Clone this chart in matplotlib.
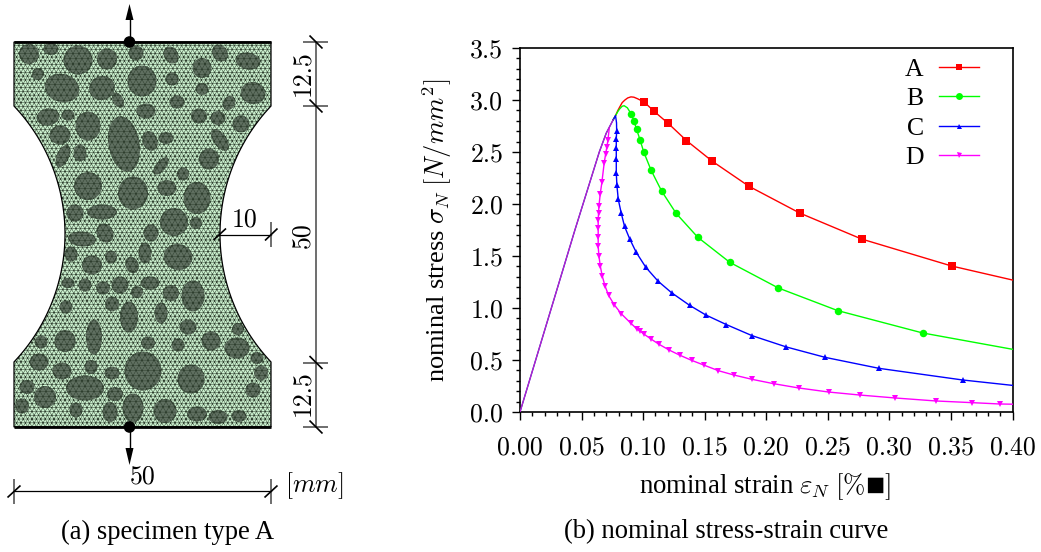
import numpy as np
import matplotlib
matplotlib.use("Agg")
import matplotlib.pyplot as plt
from matplotlib.patches import Ellipse, Polygon, Circle
from matplotlib.path import Path
from matplotlib.transforms import Affine2D
import matplotlib.tri as mtri

plt.rcParams['font.family'] = ['Liberation Serif', 'DejaVu Sans']
plt.rcParams['mathtext.fontset'] = 'cm'

# ---------- stress-strain data ----------
elastic_x = [0.0, 0.0446, 0.0644, 0.0700, 0.0757]
elastic_y = [0.0, 1.75, 2.5, 2.68, 2.81]

a_line_x = [0.0757, 0.0776, 0.0795, 0.0811, 0.0830, 0.0852, 0.0875, 0.0901, 0.0925, 0.0955]
a_line_y = [2.81, 2.85, 2.90, 2.935, 2.975, 3.00, 3.02, 3.03, 3.027, 3.012]
a_mark_x = [0.1009, 0.109, 0.1203, 0.1352, 0.1563, 0.186, 0.2272, 0.2775, 0.3505]
a_mark_y = [2.98, 2.89, 2.776, 2.61, 2.41, 2.17, 1.913, 1.663, 1.404]
a_end_x = [0.40]
a_end_y = [1.269]

b_line_x = [0.0757, 0.0776, 0.0795, 0.081, 0.083, 0.0846, 0.0872]
b_line_y = [2.81, 2.85, 2.89, 2.915, 2.94, 2.945, 2.925]
b_mark_x = [0.0903, 0.0925, 0.0947, 0.0974, 0.1006, 0.1065, 0.115, 0.1268, 0.1444, 0.1704, 0.2099, 0.258, 0.327]
b_mark_y = [2.865, 2.80, 2.718, 2.62, 2.497, 2.324, 2.125, 1.91, 1.68, 1.439, 1.192, 0.975, 0.76]
b_end_x = [0.40]
b_end_y = [0.603]

c_line_x = [0.0757, 0.0776, 0.0784]
c_line_y = [2.81, 2.85, 2.78]
c_mark_x = [0.0785, 0.0782, 0.0782, 0.0782, 0.0782, 0.0787, 0.0798, 0.0822, 0.0849, 0.089, 0.0944, 0.1022,
            0.1122, 0.1231, 0.1377, 0.1509, 0.1677, 0.1885, 0.2164, 0.248, 0.2915, 0.3594]
c_mark_y = [2.705, 2.625, 2.54, 2.43, 2.30, 2.18, 2.045, 1.913, 1.785, 1.667, 1.535, 1.391,
            1.257, 1.147, 1.026, 0.933, 0.84, 0.734, 0.625, 0.525, 0.42, 0.308]
c_end_x = [0.40]
c_end_y = [0.256]

d_line_x = [0.0725]
d_line_y = [2.728]
d_mark_x = [0.0714, 0.0706, 0.0695, 0.0684, 0.0665, 0.0652, 0.0641, 0.0638, 0.0635, 0.0635, 0.0635, 0.0635,
            0.0641, 0.0652, 0.0668, 0.069, 0.0719, 0.0765, 0.0822, 0.0898, 0.0947, 0.0974, 0.1009, 0.106,
            0.1125, 0.1211, 0.13, 0.1393, 0.1498, 0.1612, 0.1736, 0.1885, 0.2061, 0.2264, 0.2507, 0.2761,
            0.3045, 0.3378, 0.367, 0.3897]
d_mark_y = [2.615, 2.551, 2.477, 2.397, 2.208, 2.10, 1.98, 1.913, 1.846, 1.77, 1.683, 1.596,
            1.50, 1.404, 1.308, 1.214, 1.122, 1.032, 0.945, 0.856, 0.801, 0.779, 0.747, 0.705,
            0.654, 0.596, 0.545, 0.497, 0.449, 0.397, 0.356, 0.314, 0.272, 0.231, 0.192, 0.163,
            0.135, 0.106, 0.09, 0.077]
d_end_x = [0.40]
d_end_y = [0.075]

x_ticks = [0.00, 0.05, 0.10, 0.15, 0.20, 0.25, 0.30, 0.35, 0.40]
y_ticks = [0.0, 0.5, 1.0, 1.5, 2.0, 2.5, 3.0, 3.5]
series_names = ['A', 'B', 'C', 'D']

# ---------- inclusions: cx, cy, width, height, angle (screen px) ----------
grains = [
    (29,54,20,20,0),(51,49,15,12,0),(78,60,29,29,0),(107,59,20,21,0),(136,53,15,15,0),(171,55,18,14,60),
    (202,68,19,20,0),(220,53,18,15,55),(248,61,25,17,10),(38,74,12,12,0),(62,88,35,28,15),(102,88,26,24,-20),
    (142,81,29,31,0),(172,79,13,13,0),(202,89,13,12,0),(253,93,25,22,10),(118,100,17,10,60),(177,102,15,13,0),
    (229,103,15,12,-60),(146,111,19,15,0),(199,116,16,15,0),(218,118,15,14,0),(241,124,17,17,0),(48,117,23,17,-10),
    (68,115,13,11,0),(88,126,25,29,0),(60,135,21,19,0),(80,153,13,17,0),(63,156,24,12,-65),(124,144,56,31,80),
    (150,141,20,15,70),(166,138,15,12,0),(220,140,25,13,55),(209,159,20,21,0),(161,166,21,10,-50),(183,174,12,13,0),
    (88,186,28,28,0),(133,193,30,33,0),(167,188,19,16,0),(197,198,27,32,0),(75,213,17,17,0),(102,212,30,15,0),
    (174,222,28,28,0),(196,223,12,12,0),(151,233,15,17,0),(82,239,28,15,5),(105,233,20,16,60),(71,254,13,15,0),
    (111,257,12,13,0),(92,265,20,19,0),(145,253,13,21,0),(132,265,17,13,70),(178,257,29,26,15),
    (68,283,13,10,0),(85,285,13,13,0),(103,288,14,13,0),(120,285,17,17,0),(137,292,12,12,0),(150,283,19,13,0),
    (171,293,16,16,0),(193,296,23,31,0),(112,304,14,15,0),(129,317,18,31,0),(161,313,13,21,0),(66,307,13,13,0),
    (188,327,17,15,0),(238,329,12,12,0),(94,337,16,35,0),(148,343,14,13,0),(178,345,13,13,0),(211,341,19,19,0),
    (237,348,25,21,0),(41,342,13,13,0),(65,341,21,22,0),(39,362,19,17,0),(91,367,13,14,0),(62,371,19,17,0),
    (112,373,15,13,0),(143,371,37,39,0),(191,379,27,29,0),(261,373,14,15,0),(257,358,13,12,0),(85,388,38,25,0),
    (27,387,15,14,0),(45,397,22,22,0),(115,394,16,14,0),(253,390,15,15,0),(22,406,14,15,0),(76,410,13,15,0),
    (110,412,15,20,0),(133,408,21,29,0),(165,411,23,24,0),(197,414,20,15,0),(218,417,19,14,0),(239,416,15,12,0),
]

# ---------- figure ----------
W, H = 1041, 552
fig = plt.figure(figsize=(W/100, H/100), dpi=100)
ov = fig.add_axes([0, 0, 1, 1])
ov.set_xlim(0, W); ov.set_ylim(H, 0); ov.axis('off')

# outline
th = np.linspace(-np.arcsin(128/186), np.arcsin(128/186), 60)
left_x = -121 + 186*np.cos(th); yy = 234 + 186*np.sin(th)
right_x = 406 - 186*np.cos(th)
outline = np.vstack([
    [[14, 42], [271, 42]], [[271, 106]],
    np.column_stack([right_x, yy])[1:-1], [[271, 362], [271, 427], [14, 427], [14, 362]],
    np.column_stack([left_x, yy])[::-1][1:-1], [[14, 106]],
])
poly = Polygon(outline, closed=True, fc='#cdf2d0', ec='none', zorder=1)
ov.add_patch(poly)

ell_paths = []
for g in grains:
    e = Ellipse((g[0], g[1]), g[2], g[3], angle=g[4], fc='#5f6f60', ec='none', zorder=2)
    ov.add_patch(e)
    e.set_clip_path(poly)
    ell_paths.append(Path.unit_circle().transformed(
        Affine2D().scale(g[2]/2, g[3]/2).rotate_deg(g[4]).translate(g[0], g[1])))
grain_path = Path.make_compound_path(*ell_paths)

def lattice(sp):
    rows = np.arange(38, 432, sp*0.866)
    gx, gy = [], []
    for i, r in enumerate(rows):
        xs = np.arange(10 + (i % 2)*sp/2, 276, sp)
        gx.extend(xs); gy.extend([r]*len(xs))
    return np.array(gx), np.array(gy)

# fine mesh in the matrix
fx, fy = lattice(4.4)
fine = mtri.Triangulation(fx, fy)
cent = np.column_stack([fx[fine.triangles].mean(axis=1), fy[fine.triangles].mean(axis=1)])
inside = np.zeros(len(cent), bool)
for p in ell_paths:
    inside |= p.contains_points(cent)
fine.set_mask(inside)
for ln in ov.triplot(fine, color='#2e3e2e', lw=0.36, zorder=3):
    ln.set_clip_path(poly)
# coarser mesh in the inclusions
cx, cy = lattice(6.0)
coarse = mtri.Triangulation(cx, cy)
for ln in ov.triplot(coarse, color='#2e3e2e', lw=0.35, zorder=3):
    ln.set_clip_path(grain_path, ov.transData)
ov.set_xlim(0, W); ov.set_ylim(H, 0)
ov.add_patch(Polygon(outline, closed=True, fc='none', ec='black', lw=0.9, zorder=4))
ov.plot([14, 271], [42, 42], color='black', lw=2.0, zorder=5, solid_capstyle='butt')
ov.plot([14, 271], [427, 427], color='black', lw=2.0, zorder=5, solid_capstyle='butt')

# load arrows
for yb, ytip, ybase in [(42, 4, 20), (427, 465, 448)]:
    ov.plot([129.5, 129.5], [yb, ybase], color='black', lw=1.0, zorder=6)
    ov.add_patch(Polygon([[129.5, ytip], [125.5, ybase], [133.5, ybase]], fc='black', ec='none', zorder=6))
    ov.add_patch(Circle((129.5, yb), 5.8, fc='black', ec='none', zorder=7))

# dimensions
dim = dict(color='#555555', lw=1.2, zorder=6, solid_capstyle='butt')
slash = dict(color='black', lw=1.2, zorder=6, solid_capstyle='butt')
ov.plot([316, 316], [42, 427], **dim)
for y in [42, 106, 362.5, 427]:
    ov.plot([303, 328], [y, y], **dim)
    ov.plot([309.5, 322.5], [y-6.5, y+6.5], **slash)
ov.plot([218, 271], [234.7, 234.7], color='black', lw=0.9, zorder=6)
ov.plot([270.7, 270.7], [222, 247], **dim)
ov.plot([213.5, 226], [240, 228.5], **slash)
ov.plot([265, 277.5], [240.5, 228.5], **slash)
ov.plot([14, 271], [491.3, 491.3], color='black', lw=0.9, zorder=6)
for x in [14, 271]:
    ov.plot([x, x], [479, 504], **dim)
    ov.plot([x-6.5, x+6.5], [497.5, 485.5], **slash)

dimfont = dict(family='cmr10', fontsize=18.6, ha='center', va='center', color='black', zorder=8)
ov.text(302, 73, '12.5', rotation=90, **dimfont)
ov.text(302, 393, '12.5', rotation=90, **dimfont)
ov.text(302, 235, '50', rotation=90, **dimfont)
ov.text(245, 220, '10', **dimfont)
ov.text(143, 477, '50', **dimfont)
ov.text(314, 486, '$[mm]$', fontsize=18.6, ha='center', va='center', color='black', zorder=8)
ov.text(168, 532, '(a) specimen type A', fontsize=19.2, ha='center', va='center')
ov.text(726, 532, '(b) nominal stress-strain curve', fontsize=19.2, ha='center', va='center')

# x label pieces (the box glyph is larger than the text)
ov.text(866, 493, r'nominal strain $\varepsilon_N$ $[\%$', fontsize=19.3, ha='right', va='baseline', zorder=8)
ov.text(875, 495, '■', fontsize=23, ha='center', va='baseline', zorder=8)
ov.text(884, 493, '$]$', fontsize=19.3, ha='left', va='baseline', zorder=8)

# ---------- chart ----------
ax = fig.add_axes([520/W, 1-412/H, 492.5/W, 364/H])
ax.patch.set_alpha(0)
def curve(lx, ly, mx, my, ex, ey, color, marker, ms, label):
    xs = list(lx) + list(mx) + list(ex)
    ys = list(ly) + list(my) + list(ey)
    every = list(range(len(lx), len(lx)+len(mx)))
    ax.plot(xs, ys, color=color, lw=1.0, zorder=3, marker=marker, ms=ms, mew=0,
            markevery=every, label=label, clip_on=True)

ax.plot(elastic_x, elastic_y, color='#3020c0', lw=1.0, zorder=3)
ax.plot(elastic_x, elastic_y, color='#c020d0', lw=0.8, zorder=4)
curve(a_line_x, a_line_y, a_mark_x, a_mark_y, a_end_x, a_end_y, '#ff0000', 's', 5.2, series_names[0])
curve(b_line_x, b_line_y, b_mark_x, b_mark_y, b_end_x, b_end_y, '#00ff00', 'o', 5.4, series_names[1])
curve(d_line_x, d_line_y, d_mark_x, d_mark_y, d_end_x, d_end_y, '#ff00ff', 'v', 5.0, series_names[3])
curve(c_line_x, c_line_y, c_mark_x, c_mark_y, c_end_x, c_end_y, '#0000ff', '^', 5.0, series_names[2])

ax.set_xlim(0, 0.40); ax.set_ylim(0, 3.5)
ax.set_xticks(x_ticks); ax.set_yticks(y_ticks)
ax.set_xticklabels([f'{v:.2f}' for v in x_ticks], family='cmr10', fontsize=18.6)
ax.set_yticklabels([f'{v:.1f}' for v in y_ticks], family='cmr10', fontsize=18.6)
ax.set_xticks(np.arange(0, 0.4001, 0.01), minor=True)
ax.set_yticks(np.arange(0, 3.5001, 0.1), minor=True)
ax.tick_params(which='major', length=6, width=1.0)
ax.tick_params(axis='x', which='major', pad=11)
ax.tick_params(axis='y', which='major', pad=6)
ax.tick_params(which='minor', length=3, width=1.0)
for s in ax.spines.values():
    s.set_linewidth(1.2)
ax.set_ylabel(r'nominal stress $\sigma_N$ $[N/mm^2]$', fontsize=19, labelpad=12)

h, l = ax.get_legend_handles_labels()
order = [l.index(n) for n in series_names]
leg = ax.legend([h[i] for i in order], [l[i] for i in order], loc='upper left',
          bbox_to_anchor=((905-520)/492.5, 1-(10/364)), frameon=False, markerfirst=False,
          fontsize=18.5, handlelength=1.56, labelspacing=0.25, handletextpad=0.61,
          borderpad=0, borderaxespad=0)
for hd, ms in zip(leg.legend_handles, [5.0, 5.0, 3.6, 3.6]):
    hd.set_markersize(ms)

fig.savefig('out.png', dpi=100)
